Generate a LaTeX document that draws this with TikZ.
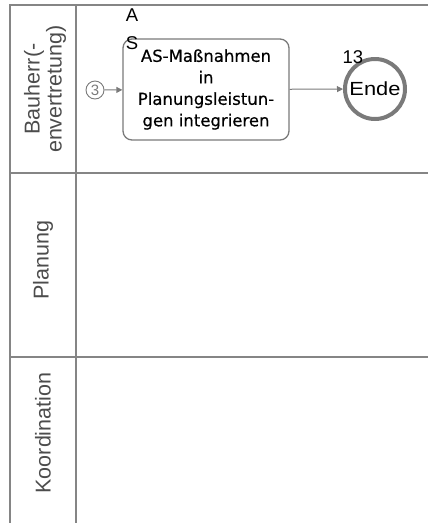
\documentclass[tikz,border=0pt]{standalone}
\usepackage{fontspec}
\usepackage{graphicx}
\setmainfont{Liberation Sans}
\newfontfamily\taskfont[FakeBold=0.4]{DejaVu Sans}
\usetikzlibrary{positioning, arrows.meta}

\definecolor{lanegray}{HTML}{858585}
\definecolor{flowgray}{HTML}{7A7A7A}

\tikzset{
  lane/.style={draw=lanegray, line width=2pt},
  lanelabel/.style={rotate=90, align=center, font=\fontsize{21.5}{22}\selectfont, text=black!70},
  task/.style={draw=flowgray, line width=1.3pt, rounded corners=9pt, fill=white,
    minimum width=166pt, minimum height=101pt, align=center, inner sep=0pt,
    font=\taskfont\fontsize{16.5}{21.5}\selectfont},
  startev/.style={circle, draw=flowgray, line width=0.9pt, minimum size=18pt, inner sep=0pt,
    text=flowgray, font=\fontsize{15}{15}\selectfont},
  endev/.style={circle, draw=flowgray, line width=4pt, minimum size=60pt, inner sep=0pt,
    font=\fontsize{19}{19}\selectfont},
  flow/.style={draw=flowgray, line width=1pt, -{Triangle[length=6pt, width=6pt]}},
  tag/.style={font=\fontsize{18.5}{28}\selectfont, align=center, inner sep=0pt}
}

\begin{document}
\begin{tikzpicture}[x=1pt, y=-1pt]

  \useasboundingbox (0,0) rectangle (428,523);

  % Pool and lanes
  \draw[lane] (428,5) -- (10,5) -- (10,523);
  \draw[lane] (76,5) -- (76,523);
  \draw[lane] (10,173) -- (428,173);
  \draw[lane] (10,357) -- (428,357);

  % Lane labels
  \node[lanelabel] (bauherr) at (45,89) {Bauherr(-\\envertretung)};
  \node[lanelabel] (planung) at (43,260) {Planung};
  \node[lanelabel] (koord) at (43,433) {Koordination};

  % Define nodes
  \node[startev] (start) at (95,90) {3};
  \node[task] (as) at (206,89.5) {AS-Maßnahmen\\in\\Planungsleistun-\\gen integrieren};
  \node[endev] (ende) at (375,89) {\scalebox{1.15}[1]{Ende}};
  \node[tag] (astag) at (132,29) {A\\S};
  \node[tag] (num) at (353,57) {13};

  % Connect the nodes
  \draw[flow] (start) -- (as);
  \draw[flow] (as) -- (ende);

\end{tikzpicture}
\end{document}
